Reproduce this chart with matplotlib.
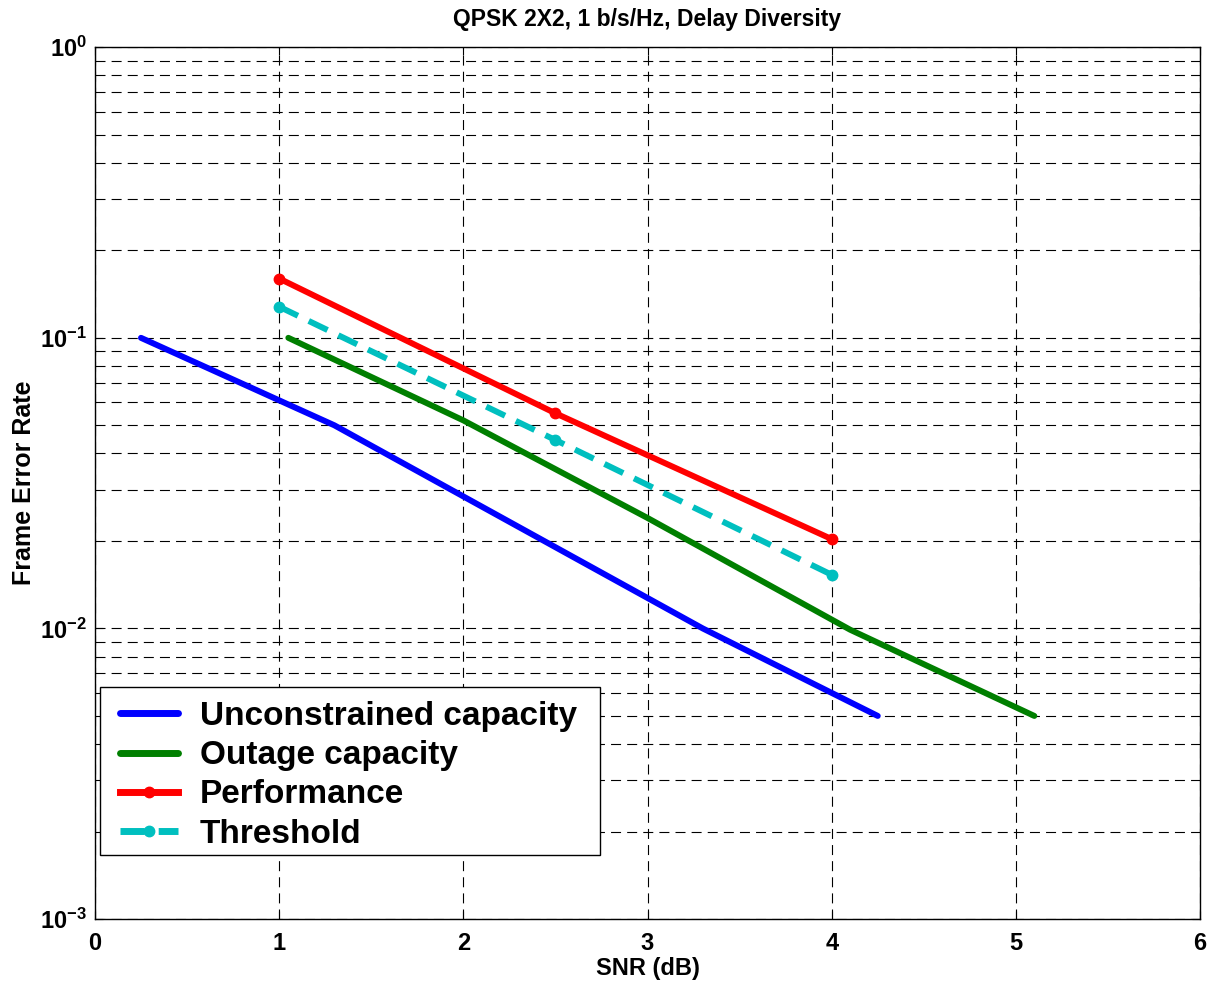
import math
import matplotlib
matplotlib.use("Agg")
import matplotlib.pyplot as plt
from matplotlib.patches import Rectangle
from matplotlib.ticker import FuncFormatter, LogLocator, NullFormatter

plt.rcParams['font.family'] = ['Liberation Sans', 'DejaVu Sans']
plt.rcParams['mathtext.fontset'] = 'custom'
plt.rcParams['mathtext.rm'] = 'Liberation Sans:bold'
plt.rcParams['mathtext.bf'] = 'Liberation Sans:bold'
plt.rcParams['mathtext.it'] = 'Liberation Sans:bold'

# Data
unc_snr = [0.25, 1.3, 3.3, 4.25]
unc_fer = [0.1, 0.05, 0.01, 0.005]
out_snr = [1.05, 2.0, 3.0, 4.1, 5.1]
out_fer = [0.1, 0.052, 0.024, 0.0099, 0.005]
perf_snr = [1.0, 2.5, 4.0]
perf_fer = [0.16, 0.055, 0.0203]
thr_snr = [1.0, 2.5, 4.0]
thr_fer = [0.128, 0.0445, 0.0153]
labels = ['Unconstrained capacity', 'Outage capacity', 'Performance', 'Threshold']
xticks = [0, 1, 2, 3, 4, 5, 6]

fig = plt.figure(figsize=(12.11, 9.84), dpi=100)
ax = fig.add_axes([0.0784, 0.066, 0.9126, 0.886])

lw = 4.3
ax.semilogy(unc_snr, unc_fer, color='#0000ff', lw=lw, label=labels[0], solid_capstyle='round')
ax.semilogy(out_snr, out_fer, color='#007f00', lw=lw, label=labels[1], solid_capstyle='round')
ax.semilogy(perf_snr, perf_fer, color='#ff0000', lw=lw, marker='o', ms=7.5, label=labels[2])
ax.semilogy(thr_snr, thr_fer, color='#00bfbf', lw=lw, ls=(0, (3.5, 2.0)), marker='o', ms=7.5, label=labels[3])

ax.set_xlim(0, 6)
ax.set_ylim(1e-3, 1)
ax.set_xticks(xticks)
ax.yaxis.set_major_locator(LogLocator(base=10, numticks=10))
ax.yaxis.set_minor_locator(LogLocator(base=10, subs=range(2, 10), numticks=20))
ax.yaxis.set_minor_formatter(NullFormatter())
ax.yaxis.set_major_formatter(FuncFormatter(lambda v, p: r'$\mathbf{10^{%d}}$' % round(math.log10(v))))

ax.tick_params(which='both', direction='in', top=True, right=True, labelsize=17)
ax.tick_params(axis='x', which='major', pad=9)
ax.tick_params(axis='y', which='major', pad=6)
ax.tick_params(which='major', length=6)
ax.tick_params(which='minor', length=3)
for lab in ax.get_xticklabels():
    lab.set_fontweight('bold')

ax.grid(True, which='major', axis='both', color='black', ls=(0, (9, 5.5)), lw=0.8)
ax.grid(True, which='minor', axis='y', color='black', ls=(0, (9, 5.5)), lw=0.8)

for s in ax.spines.values():
    s.set_linewidth(1.0)

ax.set_xlabel('SNR (dB)', fontsize=17, fontweight='bold', labelpad=2)
ax.set_ylabel('Frame Error Rate', fontsize=18, fontweight='bold', labelpad=3)
ax.set_title('QPSK 2X2, 1 b/s/Hz, Delay Diversity', fontsize=16.5, fontweight='bold', pad=15)

# legend frame drawn separately so its padding can match the reference
frame = Rectangle((0.0045, 0.0734), 0.4525, 0.1926, transform=ax.transAxes,
                  facecolor='white', edgecolor='black', lw=1.0, zorder=4.9)
ax.add_patch(frame)
leg = ax.legend(loc='upper left', bbox_to_anchor=(0.0226, 0.2500), borderaxespad=0,
                prop={'weight': 'bold', 'size': 24}, frameon=False,
                handlelength=1.74, labelspacing=0.245, borderpad=0.0,
                handletextpad=0.66)
leg.set_zorder(5)
for h in leg.get_lines():
    h.set_linewidth(5.0)

fig.savefig('out.png', dpi=100)
